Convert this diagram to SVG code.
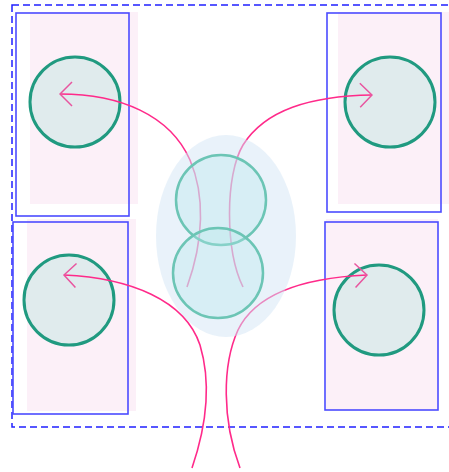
<svg xmlns="http://www.w3.org/2000/svg" width="449" height="472" viewBox="0 0 449 472">
<style>
.bg{fill:#fcf0f8;stroke:none}
.box{fill:none;stroke:#4b4bff;stroke-width:1.6}
.node{fill:#e0ebed;stroke:#209a80;stroke-width:3}
.inner{fill:#b8e8ec;fill-opacity:0.35;stroke:#6cc5b5;stroke-width:2.5}
.edge{fill:none;stroke:#ff2a8a;stroke-width:1.6;marker-start:url(#arr)}
</style>
<defs>
<marker id="arr" viewBox="0 0 14 26" refX="13" refY="13" markerWidth="14" markerHeight="26" markerUnits="userSpaceOnUse" orient="auto-start-reverse">
<path d="M1,1 L13,13 L1,25" fill="none" stroke="#e8559f" stroke-width="1.5"/>
</marker>
</defs>
<rect id="frame" x="12" y="5" width="445" height="422" fill="none" stroke="#2020ff" stroke-width="1.5" stroke-dasharray="7,4"/>
<g id="tl">
<rect class="bg" x="30" y="12" width="108" height="192"/>
<rect class="box" x="16" y="13" width="113" height="203"/>
<circle class="node" cx="75" cy="102" r="45"/>
</g>
<g id="tr">
<rect class="bg" x="338" y="12" width="111" height="192"/>
<rect class="box" x="327" y="13" width="114" height="199"/>
<circle class="node" cx="390" cy="102" r="45"/>
</g>
<g id="bl">
<rect class="bg" x="27" y="219" width="109" height="192"/>
<rect class="box" x="13" y="222" width="115" height="192"/>
<circle class="node" cx="69" cy="300" r="45"/>
</g>
<g id="br">
<rect class="bg" x="326" y="219" width="112" height="191"/>
<rect class="box" x="325" y="222" width="113" height="188"/>
<circle class="node" cx="379" cy="310" r="45"/>
</g>
<g id="connectors">
<path class="edge" d="M60,94 C120,94 170,115 190,160 C205,195 204,240 187,287"/>
<path class="edge" d="M372,95 C310,96 265,110 243,145 C225,175 225,250 243,287"/>
<path class="edge" d="M64,275 C130,278 185,300 200,345 C212,385 205,430 192,468"/>
<path class="edge" d="M367,275 C300,278 255,295 238,330 C222,365 222,420 240,468"/>
</g>
<g id="center">
<ellipse cx="226" cy="236" rx="70" ry="101" fill="#d3e5f5" fill-opacity="0.5"/>
<circle class="inner" cx="221" cy="200" r="45"/>
<circle class="inner" cx="218" cy="273" r="45"/>
</g>
</svg>
